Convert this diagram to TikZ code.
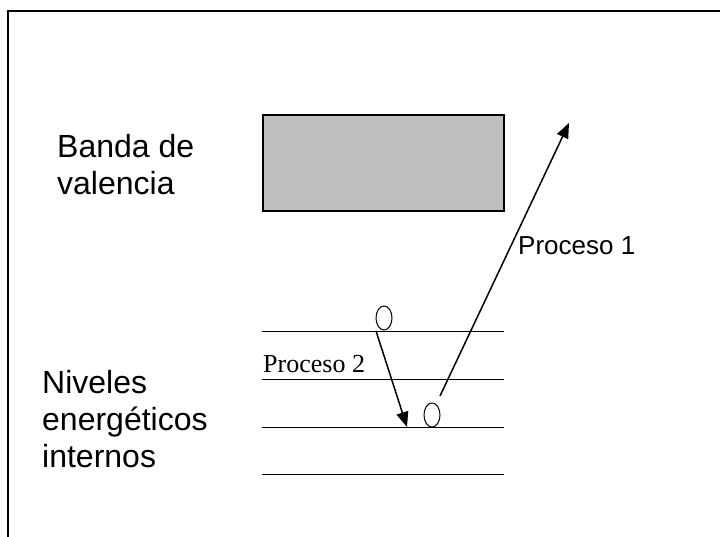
\documentclass[tikz,border=0pt]{standalone}
\usepackage{fontspec}
\setmainfont{Liberation Sans}
\newfontfamily\timesfont{Liberation Serif}
\usetikzlibrary{arrows.meta,shapes.geometric,positioning}

\begin{document}
\begin{tikzpicture}[x=1pt,y=-1pt,
  level/.style={line width=1pt},
  hole/.style={draw,ellipse,line width=1pt,inner sep=0pt,minimum width=16pt,minimum height=24pt},
  jump/.style={line width=1.5pt,-{Triangle[length=15pt,width=12pt]}},
  bigtext/.style={align=left,inner sep=0pt,font=\fontsize{32}{37}\selectfont}]
\useasboundingbox (0,0) rectangle (720,537);
% frame
\draw[line width=2pt] (8,537) -- (8,11) -- (720,11);

% valence band
\node[draw,line width=2pt,fill=black!25,minimum width=241pt,minimum height=96pt,inner sep=0pt]
  (banda) at (383.5,163) {};
\node[bigtext,anchor=north west] (lblbanda) at (57,134) {Banda de\\valencia};

% internal levels
\foreach \y [count=\i] in {331,379,427,474}
  \draw[level] (262,\y) coordinate (l\i a) -- (504,\y) coordinate (l\i b);
\node[bigtext,anchor=north west] (lblniv) at (42,370) {Niveles\\energéticos\\internos};

% holes
\node[hole] (h1) at (384,318) {};
\node[hole] (h2) at (432,415) {};

% processes
\coordinate (p2s) at (376,331);
\coordinate (p2e) at (407,427);
\draw[jump] (p2s) -- (p2e);
\coordinate (p1s) at (440,396);
\coordinate (p1e) at (569,123);
\draw[jump] (p1s) -- (p1e);

\node[anchor=base west,inner sep=0pt,font=\fontsize{26}{30}\selectfont] (proc1) at (518,255) {Proceso 1};
\node[anchor=base west,inner sep=0pt,font=\timesfont\fontsize{26}{30}\selectfont] (proc2) at (263,372) {Proceso 2};
\end{tikzpicture}
\end{document}
